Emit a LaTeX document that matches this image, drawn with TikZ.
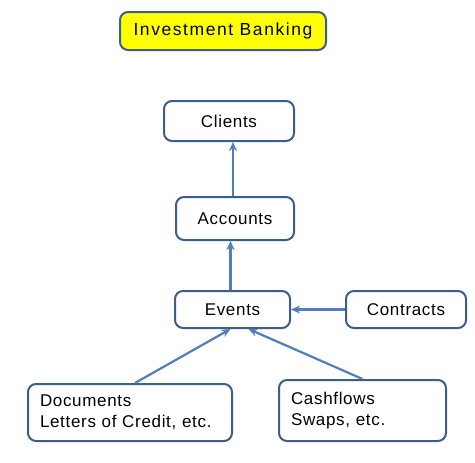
\documentclass[tikz,border=0pt]{standalone}
\usepackage{fontspec}
\setmainfont{Liberation Sans}[LetterSpace=4]
\usetikzlibrary{arrows.meta, positioning}
\definecolor{boxblue}{HTML}{3B5E8E}
\definecolor{linkblue}{HTML}{4F7FBA}
\definecolor{titleyellow}{HTML}{FFFF00}

\tikzset{
  entity/.style={draw=boxblue, line width=2pt, rounded corners=8pt, fill=white,
    font=\fontsize{17}{21}\selectfont, inner sep=0pt},
  notebox/.style={entity, align=left, inner xsep=12pt},
  link/.style={-{Stealth[length=9pt,width=8pt]}, line width=2.2pt, linkblue}
}

\begin{document}
\begin{tikzpicture}[x=1pt, y=-1pt]
  \useasboundingbox (0,0) rectangle (475,463);

  % Titel oben
  \node[entity, fill=titleyellow, minimum width=206pt, minimum height=38pt,
        font=\fontsize{17.5}{20}\selectfont\addfontfeature{LetterSpace=9}] (title) at (223,31) {Investment Banking};

  % Kette der Entitaeten
  \node[entity, minimum width=130pt, minimum height=40pt] (clients) at (229,121) {Clients};
  \node[entity, minimum width=118pt, minimum height=43pt] (accounts) at (235,218.5) {Accounts\hspace{10pt}};
  \node[entity, minimum width=115pt, minimum height=37pt] (events) at (232.5,309.5) {Events};
  \node[entity, minimum width=120pt, minimum height=37pt] (contracts) at (406,309.5) {Contracts\hspace{12pt}};

  % Quellen unten
  \node[notebox, minimum width=204pt, minimum height=57pt, text width=180pt] (documents) at (130,412.5)
    {Documents\\Letters of Credit, etc.};
  \node[notebox, minimum width=167pt, minimum height=61pt, text width=143pt] (cashflows) at (362.5,410.5)
    {Cashflows\\Swaps, etc.};

  % Verbindungen
  \draw[link] (accounts.north -| clients.south) ++(4,0) -- ([xshift=4pt]clients.south);
  \draw[link] ([xshift=-2pt]events.north) -- ([xshift=-2pt]events.north |- accounts.south);
  \draw[link] (contracts.west) -- (events.east);
  \draw[link] ([xshift=5pt]documents.north) -- ([xshift=-2pt]events.south);
  \draw[link] (cashflows.north) -- ([xshift=16pt]events.south);
\end{tikzpicture}
\end{document}
